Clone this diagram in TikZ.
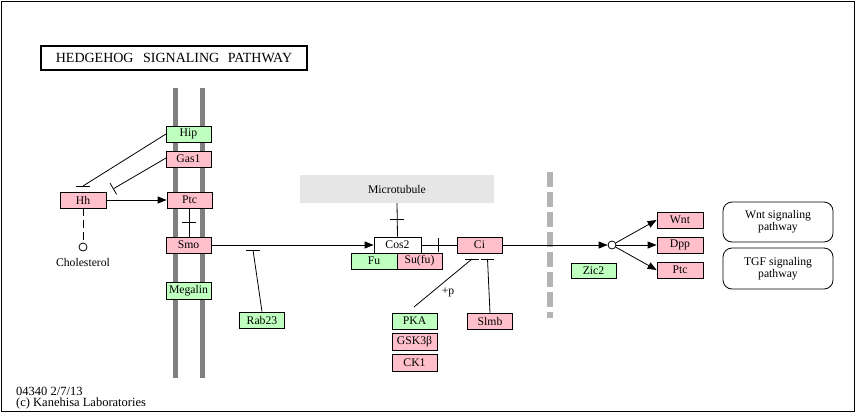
\documentclass[tikz,border=0pt]{standalone}
\usepackage{fontspec}
\setmainfont{Liberation Serif}
\usetikzlibrary{arrows.meta}
\definecolor{kpink}{RGB}{255,192,203}
\definecolor{kgreen}{RGB}{191,255,191}
\definecolor{memb}{RGB}{128,128,128}
\definecolor{nucl}{RGB}{180,180,180}
\definecolor{mtub}{RGB}{230,230,230}
\newcommand\gfont{\fontsize{11.7}{12}\selectfont}
\newcommand\ffont{\fontsize{12.5}{12}\selectfont}
\newcommand\tfont{\fontsize{14}{14}\selectfont}
\begin{document}
\begin{tikzpicture}[x=1pt,y=-1pt,
 gene/.style={draw,line width=0.8pt,minimum width=45pt,minimum height=16pt,inner sep=0pt,font=\gfont},
 pk/.style={gene,fill=kpink}, gr/.style={gene,fill=kgreen}, wh/.style={gene,fill=white},
 link/.style={line width=0.8pt},
 act/.style={link,-{Triangle[length=9pt,width=7pt]}},
 inh/.style={link,-{Bar[width=13pt]}},
 barline/.style={line width=0.8pt},
 pathbox/.style={draw,line width=0.8pt,rounded corners=9pt,minimum width=110pt,minimum height=40pt,align=center,font=\gfont,inner sep=0pt},
 cpd/.style={circle,draw,line width=0.8pt,minimum size=8pt,inner sep=0pt,fill=white},
 lbl/.style={font=\gfont,inner sep=0pt}]
\useasboundingbox (0,0) rectangle (856,413);
\draw[line width=1pt] (1,1) rectangle (854,411);
% title
\node[draw,line width=2.5pt,minimum width=266pt,minimum height=24pt,inner sep=0pt,font=\tfont] (title) at (174,58)
 {HEDGEHOG\hspace{6pt} SIGNALING\hspace{5pt} PATHWAY};
% membranes
\draw[memb,line width=5pt] (175.5,88) -- (175.5,378);
\draw[memb,line width=5pt] (202.5,88) -- (202.5,378);
\draw[nucl,line width=6pt,dash pattern=on 15pt off 5pt] (550,172) -- (550,318);
% microtubule
\node[fill=mtub,minimum width=194pt,minimum height=28pt,inner sep=0pt,font=\gfont] (mt) at (397,189) {Microtubule};
% genes
\node[gr] (hip) at (188.5,134) {Hip};
\node[pk] (gas1) at (188.5,159) {Gas1};
\node[pk] (ptc) at (189.5,200) {Ptc};
\node[pk] (smo) at (188.5,245) {Smo};
\node[gr,minimum height=17pt] (megalin) at (188.5,290.5) {Megalin};
\node[pk,minimum width=46pt] (hh) at (83,200) {Hh};
\node[cpd] (chol) at (83,247) {};
\node[lbl] (chollbl) at (83,262) {Cholesterol};
\node[gr] (rab23) at (262,320) {Rab23};
\node[wh,minimum width=47pt] (cos2) at (397.5,245) {Cos2};
\node[gr,minimum width=46pt] (fu) at (374,261) {Fu};
\node[pk] (sufu) at (419.5,261) {Su(fu)};
\node[pk] (ci) at (479.5,245) {Ci};
\node[gr] (pka) at (414.5,321) {PKA};
\node[pk,minimum height=17pt] (gsk) at (414.5,341.5) {GSK3β};
\node[pk,minimum height=17pt] (ck1) at (414.5,362.5) {CK1};
\node[pk] (slmb) at (490,321) {Slmb};
\node[cpd] (nuc) at (612,245) {};
\node[pk,minimum width=46pt] (wnt) at (680,220) {Wnt};
\node[pk,minimum width=46pt] (dpp) at (680,245) {Dpp};
\node[pk,minimum width=46pt] (ptc2) at (680,270) {Ptc};
\node[gr,minimum height=15pt] (zic2) at (593.5,270.5) {Zic2};
\node[pathbox] (wntpw) at (778,222) {Wnt signaling\\pathway};
\node[pathbox,minimum height=41pt] (tgfpw) at (778,268.5) {TGF signaling\\pathway};
\node[lbl] (plusp) at (448,292) {+p};
\node[lbl,anchor=west,font=\ffont] (ver) at (16,391) {04340 2/7/13};
\node[lbl,anchor=west,font=\ffont] (copy) at (16,403) {(c) Kanehisa Laboratories};
% coordinates
\coordinate (hipst) at (166,134);
\coordinate (hhbar) at (83,186);
\coordinate (gasst) at (166,158);
\coordinate (ptcbar) at (113,189);
\coordinate (ptcsm) at (189,208);
\coordinate (smtop) at (189,237);
\coordinate (psbar) at (189,222);
\coordinate (rabbar) at (253,250);
\coordinate (mtbar) at (397,219);
\coordinate (cibar) at (438,245);
\coordinate (pkast) at (414,307);
\coordinate (pkabar) at (472,259);
\coordinate (slmbst) at (490,313);
\coordinate (slmbbar) at (487.5,259);
% edges
\draw[link] (hipst) -- (hhbar);
\draw[barline] ([xshift=-7pt]hhbar) -- ([xshift=7pt]hhbar);
\draw[inh] (gasst) -- (ptcbar);
\draw[act] (hh.east) -- (ptc.west);
\draw[link,dash pattern=on 8pt off 4pt] (hh.south) -- (chol.north);
\draw[link] (ptcsm) -- (smtop);
\draw[barline] ([xshift=-7pt]psbar) -- ([xshift=7pt]psbar);
\draw[act] (smo.east) -- (cos2.west);
\draw[link] (rab23.north) -- (rabbar);
\draw[barline] ([xshift=-7pt]rabbar) -- ([xshift=7pt]rabbar);
\draw[link] (mt.south) -- (cos2.north);
\draw[barline] ([xshift=-7pt]mtbar) -- ([xshift=7pt]mtbar);
\draw[link] (cos2.east) -- (ci.west);
\draw[barline] ([yshift=-7pt]cibar) -- ([yshift=7pt]cibar);
\draw[act] (ci.east) -- (nuc.west);
\draw[link] (pkast) -- (pkabar);
\draw[barline] ([xshift=-7pt]pkabar) -- ([xshift=7pt]pkabar);
\draw[link] (slmbst) -- (slmbbar);
\draw[barline] ([xshift=-6.5pt]slmbbar) -- ([xshift=6.5pt]slmbbar);
\draw[act] (nuc) -- (wnt.west);
\draw[act] (nuc.east) -- (dpp.west);
\draw[act] (nuc) -- (ptc2.west);
\end{tikzpicture}
\end{document}
